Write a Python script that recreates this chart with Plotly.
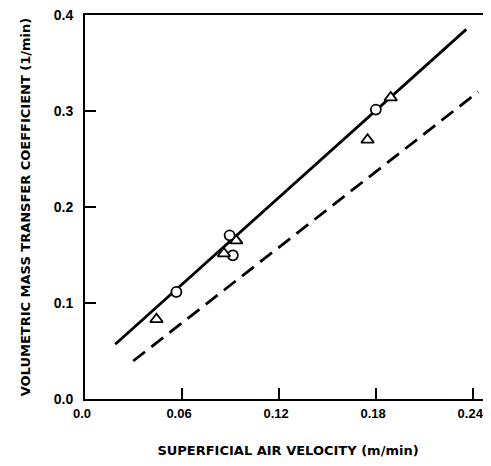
import plotly.graph_objects as go

# Data
circle_x = [0.0565, 0.0894, 0.0914, 0.1798]
circle_y = [0.1115, 0.1705, 0.1497, 0.3015]
triangle_x = [0.0442, 0.0859, 0.0935, 0.1747, 0.1890]
triangle_y = [0.0830, 0.1515, 0.1650, 0.2700, 0.3140]
solid_x = [0.0187, 0.2357]
solid_y = [0.057, 0.385]
dashed_x = [0.0298, 0.2431]
dashed_y = [0.0396, 0.320]
x_ticks = [0.0, 0.06, 0.12, 0.18, 0.24]
x_tick_labels = ["0.0", "0.06", "0.12", "0.18", "0.24"]
y_ticks = [0.0, 0.1, 0.2, 0.3, 0.4]
y_tick_labels = ["0.0", "0.1", "0.2", "0.3", "0.4"]

FONT = "Liberation Sans, Arial, sans-serif"
TITLE_FONT = "DejaVu Sans, sans-serif"

fig = go.Figure()
fig.add_trace(go.Scatter(x=solid_x, y=solid_y, mode="lines",
                         line=dict(color="black", width=2.8), showlegend=False))
fig.add_trace(go.Scatter(x=dashed_x, y=dashed_y, mode="lines",
                         line=dict(color="black", width=2.8, dash="15px,8px"), showlegend=False))
fig.add_trace(go.Scatter(x=circle_x, y=circle_y, mode="markers",
                         marker=dict(symbol="circle", size=10, color="white",
                                     line=dict(color="black", width=1.8)), showlegend=False))
fig.add_trace(go.Scatter(x=triangle_x, y=triangle_y, mode="markers",
                         marker=dict(symbol="triangle-up", size=11, color="white",
                                     line=dict(color="black", width=1.8)), showlegend=False))

# page body has an 8px margin; compensate so the plot lands where the reference has it
fig.update_layout(
    width=483, height=450,
    margin=dict(l=77, r=0, t=7, b=59, autoexpand=False),
    plot_bgcolor="white", paper_bgcolor="white",
    font=dict(family=FONT, color="black"),
)
fig.update_xaxes(
    range=[0, 0.251], tickvals=x_ticks, ticktext=x_tick_labels,
    showline=True, linecolor="black", linewidth=2, mirror=True,
    ticks="inside", ticklen=11, tickwidth=1.5, tickcolor="black",
    showgrid=False, zeroline=False, automargin=False,
    tickfont=dict(size=13, weight="bold", family=FONT),
    ticklabelstandoff=1, ticklabelshift=-3, ticklabeloverflow="allow",
    title=dict(text="SUPERFICIAL AIR VELOCITY (m/min)", standoff=26,
               font=dict(size=13, weight="bold", family=TITLE_FONT)),
)
fig.update_yaxes(
    range=[0, 0.4], tickvals=y_ticks, ticktext=y_tick_labels,
    showline=True, linecolor="black", linewidth=2, mirror=False,
    ticks="inside", ticklen=11, tickwidth=1.5, tickcolor="black",
    showgrid=False, zeroline=False, automargin=False,
    tickfont=dict(size=14, weight="bold", family=FONT),
    ticklabelstandoff=7, ticklabeloverflow="allow",
    title=dict(text="VOLUMETRIC MASS TRANSFER COEFFICIENT (1/min)", standoff=20,
               font=dict(size=13, weight="bold", family=TITLE_FONT)),
)

fig.write_html("out.html")
